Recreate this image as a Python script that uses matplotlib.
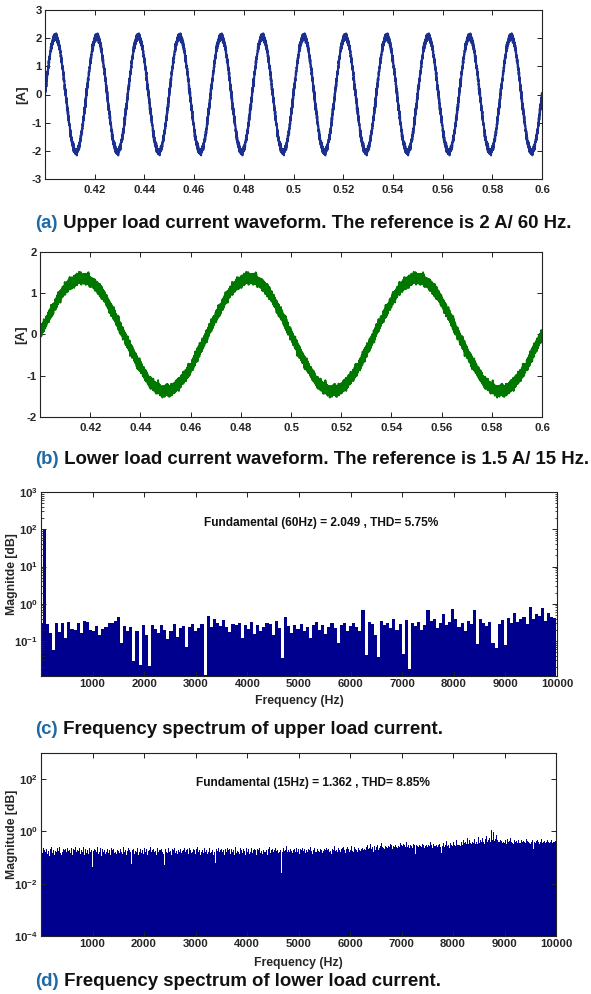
import numpy as np
import matplotlib.pyplot as plt
from matplotlib.ticker import FixedLocator, FuncFormatter, LogLocator, NullFormatter

plt.rcParams['font.family'] = ['Liberation Sans', 'DejaVu Sans']
plt.rcParams['font.weight'] = 'bold'
plt.rcParams['axes.labelweight'] = 'bold'
plt.rcParams['axes.unicode_minus'] = False
plt.rcParams['mathtext.fontset'] = 'custom'
plt.rcParams['mathtext.rm'] = 'Liberation Sans:bold'
plt.rcParams['mathtext.it'] = 'Liberation Sans:bold'
plt.rcParams['mathtext.bf'] = 'Liberation Sans:bold'

# captured window [s] and sample rate of the scope trace [Hz]
t_window = [0.4, 0.6]
fs = 100000

# fundamentals reported by the FFT analysis
upper_f1 = 60
upper_i1 = 2.049
upper_thd = 5.75
lower_f1 = 15
lower_i1 = 1.362
lower_thd = 8.85

# harmonic magnitudes in % of the fundamental, one bin per multiple of f1 (bin 0 = DC)
upper_spec = [
    0.30, 100,
    0.28, 0.16, 0.057, 0.30, 0.17, 0.31, 0.12, 0.33, 0.21, 0.20, 0.30, 0.16, 0.35, 0.33, 0.20,
    0.18, 0.25, 0.14, 0.21, 0.24, 0.30, 0.31, 0.34, 0.43, 0.09, 0.25, 0.19, 0.23, 0.028, 0.18, 0.022, 0.27,
    0.14, 0.020, 0.26, 0.21, 0.16, 0.27, 0.20, 0.11, 0.19, 0.28, 0.13, 0.22, 0.25, 0.07, 0.24, 0.29, 0.18,
    0.22, 0.28, 0.011, 0.48, 0.24, 0.38, 0.30, 0.25, 0.36, 0.23, 0.17, 0.29, 0.26, 0.31, 0.12, 0.27,
    0.21, 0.33, 0.15, 0.26, 0.19, 0.24, 0.30, 0.28, 0.14, 0.35, 0.22, 0.034, 0.45, 0.25, 0.16, 0.27, 0.21,
    0.29, 0.18, 0.23, 0.12, 0.26, 0.33, 0.20, 0.27, 0.15, 0.24, 0.30, 0.22, 0.09, 0.26, 0.31, 0.19, 0.25,
    0.30, 0.23, 0.18, 0.66, 0.04, 0.32, 0.28, 0.14, 0.035, 0.34, 0.26, 0.30, 0.22, 0.38, 0.20, 0.29,
    0.045, 0.36, 0.017, 0.30, 0.25, 0.33, 0.20, 0.27, 0.69, 0.35, 0.40, 0.22, 0.30, 0.52, 0.26, 0.33, 0.72,
    0.38, 0.24, 0.31, 0.19, 0.35, 0.28, 0.66, 0.08, 0.40, 0.30, 0.25, 0.33, 0.087, 0.063, 0.28, 0.36, 0.075,
    0.42, 0.30, 0.55, 0.33, 0.38, 0.45, 0.28, 0.80, 0.40, 0.52, 0.46, 0.76, 0.35, 0.56, 0.43, 0.41,
]

lower_spec = [
    0.20, 100, 0.15, 0.24, 0.13, 0.19, 0.16, 0.22, 0.14, 0.27, 0.18, 0.12, 0.21, 0.17, 0.25, 0.15, 0.19, 0.13, 0.22, 0.18,
    0.16, 0.23, 0.14, 0.18, 0.26, 0.15, 0.20, 0.13, 0.17, 0.22, 0.19, 0.14, 0.21, 0.16, 0.24, 0.12, 0.18, 0.20, 0.15, 0.23,
    0.17, 0.13, 0.22, 0.19, 0.15, 0.25, 0.16, 0.20, 0.12, 0.18, 0.23, 0.14, 0.19, 0.21, 0.16, 0.26, 0.13, 0.18, 0.22, 0.15,
    0.20, 0.14, 0.17, 0.24, 0.16, 0.19, 0.13, 0.042, 0.18, 0.22, 0.15, 0.20, 0.17, 0.25, 0.14, 0.19, 0.16, 0.23, 0.12, 0.18,
    0.21, 0.16, 0.19, 0.14, 0.27, 0.17, 0.22, 0.15, 0.18, 0.20, 0.13, 0.24, 0.16, 0.19, 0.22, 0.15, 0.17, 0.21, 0.14, 0.20,
    0.18, 0.32, 0.15, 0.22, 0.17, 0.20, 0.14, 0.25, 0.16, 0.19, 0.21, 0.13, 0.18, 0.23, 0.15, 0.20, 0.17, 0.058, 0.19, 0.16,
    0.22, 0.14, 0.18, 0.21, 0.16, 0.24, 0.13, 0.19, 0.17, 0.22, 0.15, 0.20, 0.18, 0.14, 0.23, 0.16, 0.19, 0.21, 0.13, 0.18,
    0.20, 0.15, 0.25, 0.17, 0.19, 0.14, 0.22, 0.16, 0.18, 0.21, 0.13, 0.24, 0.17, 0.20, 0.15, 0.19, 0.22, 0.16, 0.18, 0.14,
    0.050, 0.21, 0.17, 0.19, 0.15, 0.23, 0.16, 0.20, 0.18, 0.13, 0.22, 0.17, 0.19, 0.24, 0.15, 0.18, 0.21, 0.14, 0.20, 0.16,
    0.19, 0.22, 0.15, 0.18, 0.20, 0.13, 0.24, 0.17, 0.19, 0.16, 0.21, 0.14, 0.23, 0.18, 0.20, 0.15, 0.17, 0.22, 0.16, 0.19,
    0.14, 0.21, 0.18, 0.25, 0.16, 0.19, 0.13, 0.22, 0.17, 0.20, 0.15, 0.18, 0.23, 0.16, 0.19, 0.21, 0.14, 0.17, 0.24, 0.15,
    0.20, 0.17, 0.19, 0.13, 0.22, 0.16, 0.060, 0.21, 0.18, 0.15, 0.23, 0.17, 0.19, 0.14, 0.22, 0.16, 0.20, 0.18, 0.13, 0.21,
    0.17, 0.24, 0.15, 0.19, 0.21, 0.14, 0.18, 0.22, 0.16, 0.20, 0.13, 0.19, 0.25, 0.15, 0.18, 0.21, 0.17, 0.14, 0.23, 0.16,
    0.19, 0.15, 0.22, 0.18, 0.20, 0.13, 0.24, 0.16, 0.19, 0.21, 0.14, 0.17, 0.23, 0.18, 0.15, 0.20, 0.22, 0.16, 0.19, 0.13,
    0.21, 0.17, 0.19, 0.24, 0.15, 0.18, 0.22, 0.14, 0.20, 0.16, 0.23, 0.17, 0.19, 0.13, 0.21, 0.18, 0.25, 0.15, 0.20, 0.17,
    0.22, 0.16, 0.19, 0.14, 0.23, 0.18, 0.20, 0.15, 0.21, 0.17, 0.19, 0.026, 0.22, 0.16, 0.24, 0.18, 0.15, 0.20, 0.27, 0.17,
    0.19, 0.23, 0.16, 0.21, 0.18, 0.25, 0.15, 0.20, 0.22, 0.17, 0.19, 0.24, 0.16, 0.21, 0.18, 0.14, 0.22, 0.19, 0.17, 0.23,
    0.18, 0.21, 0.15, 0.24, 0.19, 0.17, 0.22, 0.16, 0.20, 0.25, 0.18, 0.14, 0.21, 0.19, 0.23, 0.17, 0.20, 0.16, 0.22, 0.18,
    0.24, 0.17, 0.21, 0.19, 0.15, 0.26, 0.18, 0.22, 0.20, 0.16, 0.23, 0.19, 0.21, 0.17, 0.25, 0.18, 0.14, 0.22, 0.20, 0.19,
    0.27, 0.18, 0.22, 0.20, 0.16, 0.24, 0.19, 0.31, 0.17, 0.21, 0.23, 0.18, 0.26, 0.20, 0.15, 0.22, 0.19, 0.25, 0.21, 0.17,
    0.23, 0.20, 0.28, 0.18, 0.22, 0.16, 0.25, 0.21, 0.19, 0.30, 0.17, 0.23, 0.20, 0.26, 0.18, 0.22, 0.24, 0.19, 0.27, 0.21,
    0.20, 0.25, 0.18, 0.29, 0.22, 0.24, 0.19, 0.33, 0.21, 0.26, 0.17, 0.23, 0.28, 0.20, 0.25, 0.22, 0.31, 0.19, 0.24, 0.27,
    0.22, 0.35, 0.26, 0.24, 0.30, 0.21, 0.27, 0.25, 0.38, 0.23, 0.28, 0.26, 0.33, 0.24, 0.29, 0.22, 0.27, 0.36, 0.25, 0.30,
    0.26, 0.23, 0.32, 0.28, 0.25, 0.37, 0.24, 0.29, 0.27, 0.34, 0.22, 0.30, 0.26, 0.40, 0.25, 0.28, 0.31, 0.23, 0.29, 0.35,
    0.27, 0.24, 0.33, 0.29, 0.26, 0.14, 0.31, 0.28, 0.36, 0.25, 0.30, 0.27, 0.42, 0.26, 0.32, 0.29, 0.24, 0.35, 0.28, 0.31,
    0.25, 0.34, 0.29, 0.27, 0.38, 0.26, 0.31, 0.23, 0.33, 0.28, 0.40, 0.27, 0.30, 0.25, 0.36, 0.29, 0.32, 0.26, 0.15, 0.30,
    0.28, 0.35, 0.26, 0.31, 0.29, 0.43, 0.27, 0.33, 0.30, 0.24, 0.37, 0.29, 0.32, 0.27, 0.39, 0.30, 0.34, 0.28, 0.45, 0.31,
    0.29, 0.36, 0.31, 0.27, 0.41, 0.33, 0.30, 0.48, 0.35, 0.29, 0.38, 0.32, 0.55, 0.34, 0.31, 0.46, 0.37, 0.33, 0.94, 0.40,
    0.36, 0.52, 0.34, 0.44, 0.38, 0.33, 0.61, 0.39, 0.35, 0.47, 0.41, 0.37, 0.56, 0.40, 0.34, 0.50, 0.43, 0.65, 0.38, 0.46,
    0.42, 0.58, 0.40, 1.09, 0.47, 0.44, 0.98, 0.43, 0.52, 0.39, 0.70, 0.45, 0.41, 0.55, 0.38, 0.48, 0.43, 0.36, 0.60, 0.40,
    0.37, 0.45, 0.39, 0.34, 0.50, 0.38, 0.42, 0.35, 0.57, 0.40, 0.36, 0.44, 0.33, 0.48, 0.39, 0.20, 0.43, 0.37, 0.46, 0.35,
    0.41, 0.36, 0.49, 0.38, 0.34, 0.44, 0.40, 0.37, 0.52, 0.35, 0.42, 0.39, 0.36, 0.47, 0.33, 0.40, 0.45, 0.38, 0.21, 0.41,
    0.37, 0.43, 0.35, 0.46, 0.39, 0.34, 0.42, 0.38, 0.50, 0.36, 0.40, 0.33, 0.44, 0.37, 0.41, 0.35, 0.48, 0.38, 0.36, 0.43,
    0.39, 0.45, 0.37, 0.41, 0.47, 0.38, 0.42,
]

wave_ticks = [0.42, 0.44, 0.46, 0.48, 0.5, 0.52, 0.54, 0.56, 0.58, 0.6]
freq_ticks = [1000, 2000, 3000, 4000, 5000, 6000, 7000, 8000, 9000, 10000]

captions = [
    ("(a)", " Upper load current waveform. The reference is 2 A/ 60 Hz.", 228.5),
    ("(b)", " Lower load current waveform. The reference is 1.5 A/ 15 Hz.", 463.5),
    ("(c)", " Frequency spectrum of upper load current.", 733.5),
    ("(d)", " Frequency spectrum of lower load current.", 985.5),
]

W, H = 591, 994
tick_col = '#262626'


def rebuild(t, f1, i1, spec):
    # sum of the harmonic bins; phases are not in the magnitude spectrum,
    # so the fundamental is at zero and the rest are spread deterministically
    i = np.full_like(t, i1 * spec[0] / 100)
    g = (np.sqrt(5) - 1) / 2
    for k in range(1, len(spec)):
        ph = 0.0 if k == 1 else 2 * np.pi * ((k * k * g) % 1.0)
        i += i1 * spec[k] / 100 * np.sin(2 * np.pi * k * f1 * t + ph)
    return i


def px_axes(l, r, top, bot):
    return fig.add_axes([l / W, 1 - bot / H, (r - l) / W, (bot - top) / H])


def style(ax, pad_x):
    for s in ax.spines.values():
        s.set_linewidth(0.8)
        s.set_color('#222222')
    ax.tick_params(which='both', direction='in', top=True, right=True,
                   colors='#222222', labelcolor=tick_col, labelsize=8.2)
    ax.tick_params(which='major', length=3.5, width=0.7)
    ax.tick_params(which='minor', length=1.8, width=0.6)
    ax.tick_params(axis='x', pad=pad_x)
    ax.tick_params(axis='y', pad=2.2)
    for lab in ax.get_xticklabels() + ax.get_yticklabels():
        lab.set_fontweight('bold')


fig = plt.figure(figsize=(W / 100, H / 100), dpi=100)

t = np.arange(t_window[0], t_window[1] + 0.5 / fs, 1 / fs)
sec_fmt = FuncFormatter(lambda v, p: '%g' % v)

# (a) upper load current
ax = px_axes(45, 542, 10, 179)
ax.plot(t, rebuild(t, upper_f1, upper_i1, upper_spec), color='#1a2f8e', lw=1.5)
ax.set_xlim(t_window)
ax.set_ylim(-3, 3)
ax.xaxis.set_major_locator(FixedLocator(wave_ticks))
ax.xaxis.set_major_formatter(sec_fmt)
ax.set_yticks(range(-3, 4))
ax.set_ylabel('[A]', fontsize=9.5, fontweight='bold', color=tick_col)
ax.yaxis.set_label_coords(-0.034, 0.5)
style(ax, 4.0)

# (b) lower load current
ax = px_axes(40, 542, 252, 417)
ax.plot(t, rebuild(t, lower_f1, lower_i1, lower_spec), color='#007800', lw=1.4)
ax.set_xlim(t_window)
ax.set_ylim(-2, 2)
ax.xaxis.set_major_locator(FixedLocator(wave_ticks))
ax.xaxis.set_major_formatter(sec_fmt)
ax.set_yticks(range(-2, 3))
ax.set_ylabel('[A]', fontsize=9.5, fontweight='bold', color=tick_col)
ax.yaxis.set_label_coords(-0.025, 0.5)
style(ax, 4.0)

log_fmt = FuncFormatter(lambda v, p: r'$10^{%d}$' % round(np.log10(v)))


def spectrum(ax, f1, i1, thd, spec, ylim, yt, ylabel, minor, txt_xy, xlab_y):
    freq = np.arange(len(spec)) * f1
    ax.bar(freq, spec, width=f1, bottom=ylim[0] * 0.1, color='#00008f',
           edgecolor='none', linewidth=0)
    ax.set_yscale('log')
    ax.set_xlim(0, 10000)
    ax.set_ylim(ylim)
    ax.xaxis.set_major_locator(FixedLocator(freq_ticks))
    ax.yaxis.set_major_locator(FixedLocator(yt))
    ax.yaxis.set_major_formatter(log_fmt)
    if minor:
        ax.yaxis.set_minor_locator(LogLocator(base=10, subs=np.arange(2, 10)))
    else:
        ax.yaxis.set_minor_locator(FixedLocator([]))
    ax.yaxis.set_minor_formatter(NullFormatter())
    ax.set_xlabel('Frequency (Hz)', fontsize=8.8, fontweight='bold', color=tick_col)
    ax.xaxis.set_label_coords(0.5, xlab_y)
    ax.set_ylabel(ylabel, fontsize=8.8, fontweight='bold', color=tick_col)
    ax.yaxis.set_label_coords(-0.044, 0.555)
    ax.text(txt_xy[0], txt_xy[1],
            'Fundamental (%dHz) = %.3f , THD= %.2f%%' % (f1, i1, thd),
            transform=ax.transAxes, ha='center', va='center', fontsize=8.6,
            fontweight='bold', color='#111111')
    style(ax, 2.3)


# (c) spectrum of the upper current
ax = px_axes(41, 557, 492, 676)
spectrum(ax, upper_f1, upper_i1, upper_thd, upper_spec, (0.0115, 1000),
         [0.1, 1, 10, 100, 1000], 'Magnitde [dB]', True, (0.543, 0.832), -0.105)

# (d) spectrum of the lower current
ax = px_axes(41, 556, 753, 936)
spectrum(ax, lower_f1, lower_i1, lower_thd, lower_spec, (1e-4, 1000),
         [1e-4, 1e-2, 1, 100], 'Magnitude [dB]', False, (0.528, 0.836), -0.113)

# captions: coloured panel tag followed by the black description
fig.canvas.draw()
r = fig.canvas.get_renderer()
for tag, desc, ybase in captions:
    t1 = fig.text(35 / W, 1 - ybase / H, tag, color='#1f6aa5', fontsize=13.4,
                  fontweight='bold', va='baseline', ha='left')
    bb = t1.get_window_extent(r)
    fig.text(bb.x1 / W, 1 - ybase / H, desc, color='#111111', fontsize=13.4,
             fontweight='bold', va='baseline', ha='left')

fig.savefig('out.png', dpi=100)
